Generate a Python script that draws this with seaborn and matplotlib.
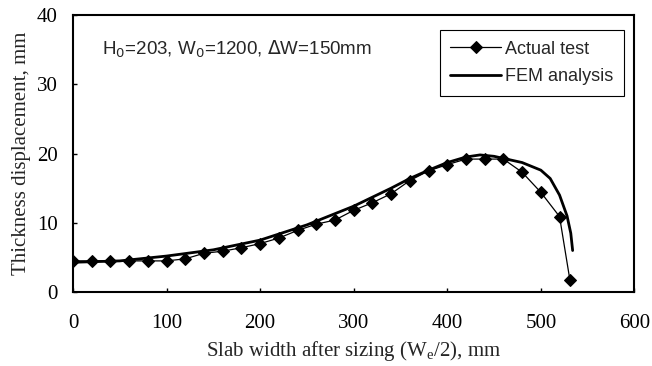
import numpy as np
import pandas as pd
import matplotlib
matplotlib.use("Agg")
import matplotlib.pyplot as plt
import seaborn as sns

# Actual test data
test_x = [0, 20, 40, 60, 80, 100, 120, 140, 160, 180, 200, 220, 240, 260, 280,
          300, 320, 340, 360, 380, 400, 420, 440, 460, 480, 500, 520, 531]
test_y = [4.5, 4.5, 4.5, 4.5, 4.5, 4.5, 4.8, 5.6, 5.9, 6.4, 7.0, 7.8, 8.9, 9.8, 10.4,
          11.8, 12.9, 14.2, 16.1, 17.5, 18.4, 19.2, 19.2, 19.2, 17.3, 14.4, 10.9, 1.8]

# FEM analysis curve
fem_x = [0, 50, 100, 150, 200, 250, 300, 340, 360, 380, 400, 420, 435, 450, 460,
         480, 500, 510, 520, 528, 532, 534]
fem_y = [4.3, 4.5, 5.2, 6.1, 7.5, 9.7, 12.4, 15.0, 16.4, 17.6, 18.7, 19.5, 19.8, 19.6, 19.3,
         18.7, 17.6, 16.4, 14.0, 11.0, 8.5, 6.0]

sns.set_style("ticks")
plt.rcParams['font.family'] = ['Liberation Serif', 'DejaVu Serif']
plt.rcParams['mathtext.fontset'] = 'custom'
plt.rcParams['mathtext.rm'] = 'Liberation Serif'
plt.rcParams['mathtext.it'] = 'Liberation Serif'

fig = plt.figure(figsize=(6.52, 3.66), dpi=100)
ax = fig.add_axes([0.112, 0.202, 0.861, 0.757])

df_test = pd.DataFrame({"x": test_x, "y": test_y})
df_fem = pd.DataFrame({"x": fem_x, "y": fem_y})

sns.lineplot(data=df_test, x="x", y="y", ax=ax, color="black", lw=0.9,
             marker="D", markersize=6, markeredgecolor="black", label="Actual test",
             sort=False)
sns.lineplot(data=df_fem, x="x", y="y", ax=ax, color="black", lw=2.0,
             label="FEM analysis", sort=False)

ax.set_xlim(0, 600)
ax.set_ylim(0, 40)
ax.set_xticks([0, 100, 200, 300, 400, 500, 600])
ax.set_yticks([0, 10, 20, 30, 40])
ax.tick_params(direction="in", length=3, width=1, labelsize=15, colors="black")
ax.tick_params(axis="x", pad=16)
ax.tick_params(axis="y", pad=11)
for s in ax.spines.values():
    s.set_linewidth(1.5)
    s.set_color("black")
    s.set_visible(True)

ax.set_xlabel("Slab width after sizing (W$_\\mathrm{e}$/2), mm", fontsize=15, labelpad=4)
ax.set_ylabel("Thickness displacement, mm", fontsize=15, labelpad=4)

ax.text(0.052, 0.875,
        "H$_\\mathrm{0}$=203, W$_\\mathrm{0}$=1200, $\\Delta$W=150mm",
        transform=ax.transAxes, fontsize=13.5, family=['Liberation Sans', 'DejaVu Sans'],
        math_fontfamily='dejavusans', va="center")

leg = ax.legend(loc="upper right", bbox_to_anchor=(0.981, 0.947), frameon=True,
                fancybox=False, edgecolor="black", framealpha=1,
                prop={'family': ['Liberation Sans', 'DejaVu Sans'], 'size': 13},
                handlelength=2.8, borderpad=0.6, labelspacing=0.6, handletextpad=0.2,
                borderaxespad=0)
leg.get_frame().set_linewidth(0.8)

fig.savefig("out.png", dpi=100)
